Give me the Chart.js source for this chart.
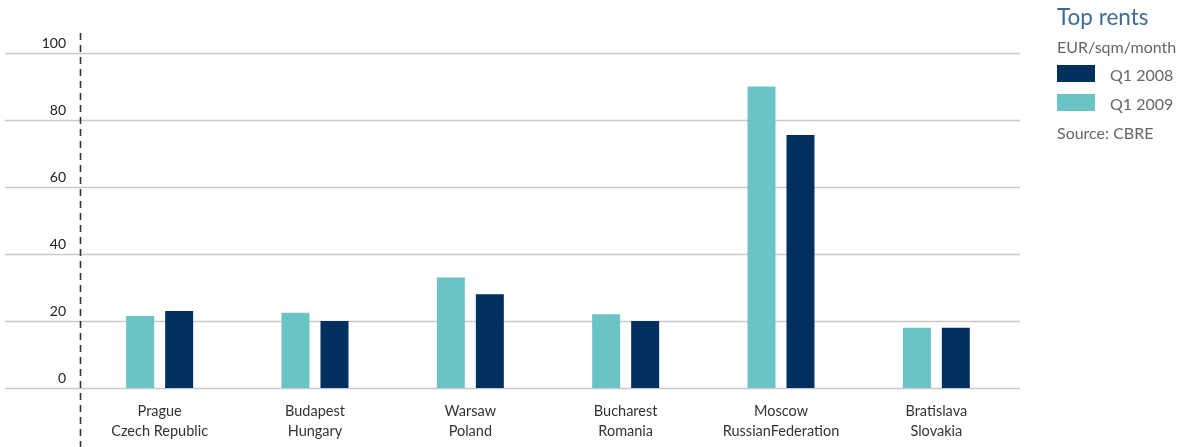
<!DOCTYPE html>
<html>
<head>
<meta charset="utf-8">
<script src="https://cdn.jsdelivr.net/npm/chart.js@4/dist/chart.umd.min.js"></script>
<style>
  html, body { margin: 0; padding: 0; background: #fff; }
  #wrap { position: relative; width: 1183px; height: 447px; }
</style>
</head>
<body>
<div id="wrap"><canvas id="barChart" width="1183" height="447"></canvas></div>
<script>
const cities = ['Prague', 'Budapest', 'Warsaw', 'Bucharest', 'Moscow', 'Bratislava'];
const countries = ['Czech Republic', 'Hungary', 'Poland', 'Romania', 'RussianFederation', 'Slovakia'];
const rents2009 = [21.5, 22.5, 33, 22, 90, 18];
const rents2008 = [23, 20, 28, 20, 75.5, 18];
const yTicks = [0, 20, 40, 60, 80, 100];

const teal = '#6AC3C5';
const navy = '#00305F';
const fontFamily = 'Lato, "Noto Sans", sans-serif';

// gridlines, y labels, the dashed axis line and the legend box on the right
const decorations = {
    id: 'decorations',
    beforeDatasetsDraw(chart) {
        const c = chart.ctx;
        const y = chart.scales.y;
        c.save();
        c.strokeStyle = '#c9c9c9';
        c.lineWidth = 1.5;
        yTicks.forEach(v => {
            const py = Math.round(y.getPixelForValue(v)) + 0.5;
            c.beginPath();
            c.moveTo(5, py);
            c.lineTo(1020, py);
            c.stroke();
        });
        c.fillStyle = '#222';
        c.font = '14px ' + fontFamily;
        c.textAlign = 'right';
        c.textBaseline = 'middle';
        yTicks.forEach(v => {
            c.fillText(String(v), 66, y.getPixelForValue(v) - 10);
        });
        c.strokeStyle = '#333';
        c.lineWidth = 1.6;
        c.setLineDash([7, 5]);
        c.beginPath();
        c.moveTo(80.5, 33);
        c.lineTo(80.5, 447);
        c.stroke();
        c.restore();
    },
    afterDraw(chart) {
        const c = chart.ctx;
        c.save();
        c.textAlign = 'left';
        c.textBaseline = 'middle';
        c.fillStyle = '#3E6A96';
        c.font = '22.5px ' + fontFamily;
        c.fillText('Top rents', 1057, 18);
        c.fillStyle = '#666';
        c.font = '16px ' + fontFamily;
        c.fillText('EUR/sqm/month', 1057, 48);
        const items = [chart.data.datasets[1], chart.data.datasets[0]];
        items.forEach((ds, i) => {
            const top = 65 + i * 29;
            c.fillStyle = ds.backgroundColor;
            c.fillRect(1057, top, 38, 17);
            c.fillStyle = '#666';
            c.fillText(ds.label, 1110, top + 11);
        });
        c.fillText('Source: CBRE', 1057, 134);
        c.restore();
    }
};

const ctx = document.getElementById('barChart').getContext('2d');
const barChart = new Chart(ctx, {
    type: 'bar',
    data: {
        labels: cities.map((city, i) => [city, countries[i]]),
        datasets: [
            { label: 'Q1 2009', data: rents2009, backgroundColor: teal },
            { label: 'Q1 2008', data: rents2008, backgroundColor: navy }
        ]
    },
    options: {
        responsive: false,
        animation: false,
        categoryPercentage: 0.502,
        barPercentage: 0.718,
        layout: { padding: { left: 82, right: 169, top: 53, bottom: 0 } },
        scales: {
            x: {
                grid: { display: false },
                border: { display: false },
                ticks: {
                    color: '#333',
                    font: { family: fontFamily, size: 14.5, lineHeight: 1.38 },
                    padding: 5,
                    maxRotation: 0,
                    autoSkip: false
                },
                afterFit(scale) { scale.height = 59; }
            },
            y: {
                display: false,
                min: 0,
                max: 100
            }
        },
        plugins: {
            legend: { display: false },
            tooltip: { enabled: false }
        }
    },
    plugins: [decorations]
});
</script>
</body>
</html>
